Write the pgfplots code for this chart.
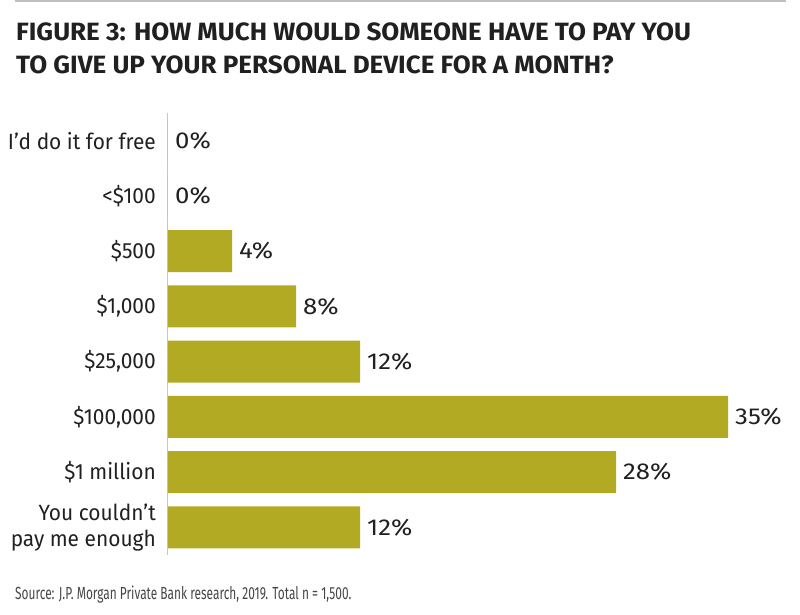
\documentclass[border=0pt]{standalone}
\usepackage{pgfplots}
\pgfplotsset{compat=1.18}
\usepackage{fontspec}
\setmainfont{Fira Sans}[FakeStretch=0.95]
\newfontfamily\titlefont{Fira Sans}[FakeStretch=1.04]
\newfontfamily\valfont{Fira Sans}[FakeStretch=1.12]
\newfontfamily\srcfont{Fira Sans}[FakeStretch=0.68]
\definecolor{barc}{RGB}{179,170,36}
\definecolor{txt}{RGB}{34,31,32}
\definecolor{src}{RGB}{70,70,70}
\begin{document}
\begin{tikzpicture}
\useasboundingbox (0pt,0pt) rectangle (800pt,-614pt);
\fill[black!25] (15pt,0pt) rectangle (786pt,-2pt);
\node[anchor=base west, inner sep=0pt, text=txt, font=\titlefont\bfseries\fontsize{25}{30}\selectfont] at (16pt,-40pt) {FIGURE 3: HOW MUCH WOULD SOMEONE HAVE TO PAY YOU};
\node[anchor=base west, inner sep=0pt, text=txt, font=\titlefont\bfseries\fontsize{25}{30}\selectfont] at (16pt,-73pt) {TO GIVE UP YOUR PERSONAL DEVICE FOR A MONTH?};
\begin{axis}[
  at={(168pt,-113pt)}, anchor=north west,
  scale only axis, width=560pt, height=442pt,
  xbar, xmin=0, xmax=35, ymin=-0.5, ymax=7.5, y dir=reverse,
  bar width=42pt,
  hide x axis,
  axis y line*=left,
  y axis line style={draw=black!22, line width=1pt},
  ytick={0,...,7},
  yticklabels={{I’d do it for free},{<\$100},{\$500},{\$1,000},{\$25,000},{\$100,000},{\$1 million},{You couldn’t\\pay me enough}},
  major tick length=0pt,
  ytick style={draw=none},
  yticklabel style={font=\fontsize{22}{26}\selectfont, text=txt, align=right, inner sep=0pt, xshift=-12pt},
  clip=false,
  point meta=x,
  nodes near coords={\pgfmathprintnumber[fixed,precision=0,assume math mode=true]{\pgfplotspointmeta}\%},
  nodes near coords style={font=\valfont\fontsize{23}{26}\selectfont, text=txt, anchor=west, inner sep=0pt, xshift=7pt},
]
\addplot[fill=barc, draw=none] coordinates {(0,0) (0,1) (4,2) (8,3) (12,4) (35,5) (28,6) (12,7)};
\end{axis}
\node[anchor=base west, inner sep=0pt, text=src, font=\srcfont\fontsize{17.5}{22}\selectfont] at (15pt,-599pt) {Source: J.P. Morgan Private Bank research, 2019. Total n = 1,500.};
\end{tikzpicture}
\end{document}
